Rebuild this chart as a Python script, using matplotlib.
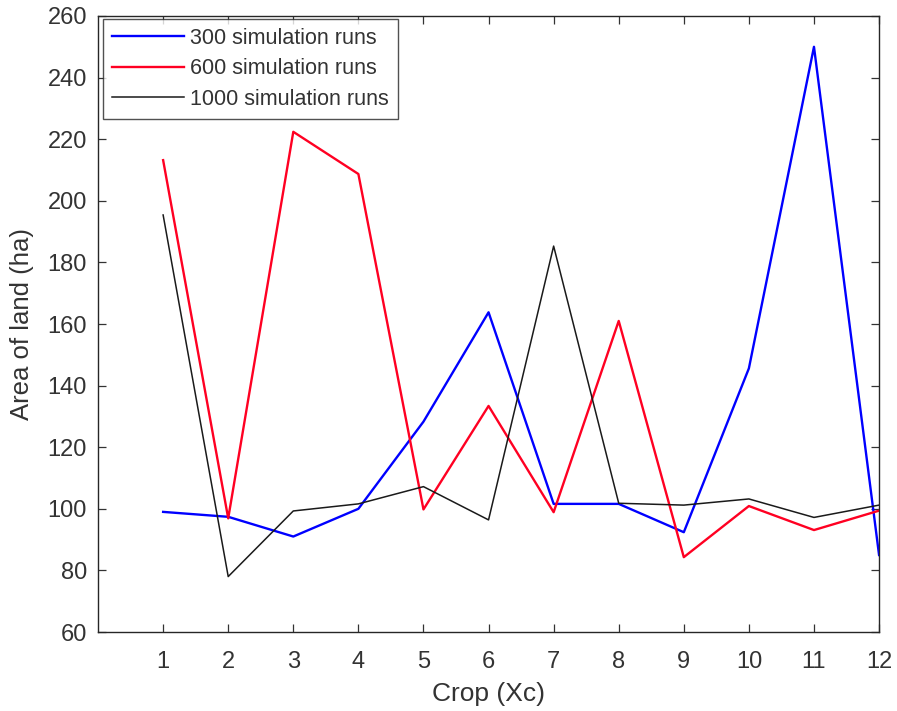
import matplotlib
matplotlib.use("Agg")
import matplotlib.pyplot as plt

crops = [1, 2, 3, 4, 5, 6, 7, 8, 9, 10, 11, 12]
runs_300 = [99, 97.4, 91, 100, 128.3, 163.8, 101.6, 101.6, 92.4, 145.6, 250, 85]
runs_600 = [213.2, 96.9, 222.4, 208.7, 99.8, 133.4, 98.9, 161, 84.3, 100.9, 93.1, 99.4]
runs_1000 = [195.4, 78, 99.3, 101.6, 107.2, 96.4, 185.3, 101.8, 101.2, 103.2, 97.2, 101.2]
labels = ["300 simulation runs", "600 simulation runs", "1000 simulation runs"]
yticks = [60, 80, 100, 120, 140, 160, 180, 200, 220, 240, 260]

plt.rcParams['font.family'] = ['Liberation Sans', 'DejaVu Sans']
fig = plt.figure(figsize=(8.97, 7.11), dpi=100)
ax = fig.add_axes([0.1093, 0.1111, 0.8707, 0.8664])

ax.plot(crops, runs_300, color='#0000ff', lw=1.7, label=labels[0])
ax.plot(crops, runs_600, color='#ff0022', lw=1.7, label=labels[1])
ax.plot(crops, runs_1000, color='#1a1a1a', lw=1.1, label=labels[2])

ax.set_xlim(0, 12)
ax.set_ylim(60, 260)
ax.set_xticks(crops)
ax.set_yticks(yticks)
ax.tick_params(direction='in', top=True, right=True, labelsize=17, colors='#333333', length=6, width=0.9)
ax.tick_params(axis='x', pad=14)
ax.tick_params(axis='y', pad=8)
for s in ax.spines.values():
    s.set_linewidth(1.0)
    s.set_color('#262626')
ax.set_xlabel("Crop (Xc)", fontsize=19, color='#333333', labelpad=6)
ax.set_ylabel("Area of land (ha)", fontsize=18.5, color='#333333', labelpad=10)

leg = ax.legend(loc='upper left', fontsize=15.5, frameon=True, fancybox=False,
                edgecolor='#262626', bbox_to_anchor=(103/897, 1-19/711),
                bbox_transform=fig.transFigure, borderaxespad=0,
                handlelength=3.35, labelspacing=0.45, borderpad=0.4, handletextpad=0.3)
leg.get_frame().set_linewidth(1.0)
for t in leg.get_texts():
    t.set_color('#333333')

fig.savefig("out.png", dpi=100)
